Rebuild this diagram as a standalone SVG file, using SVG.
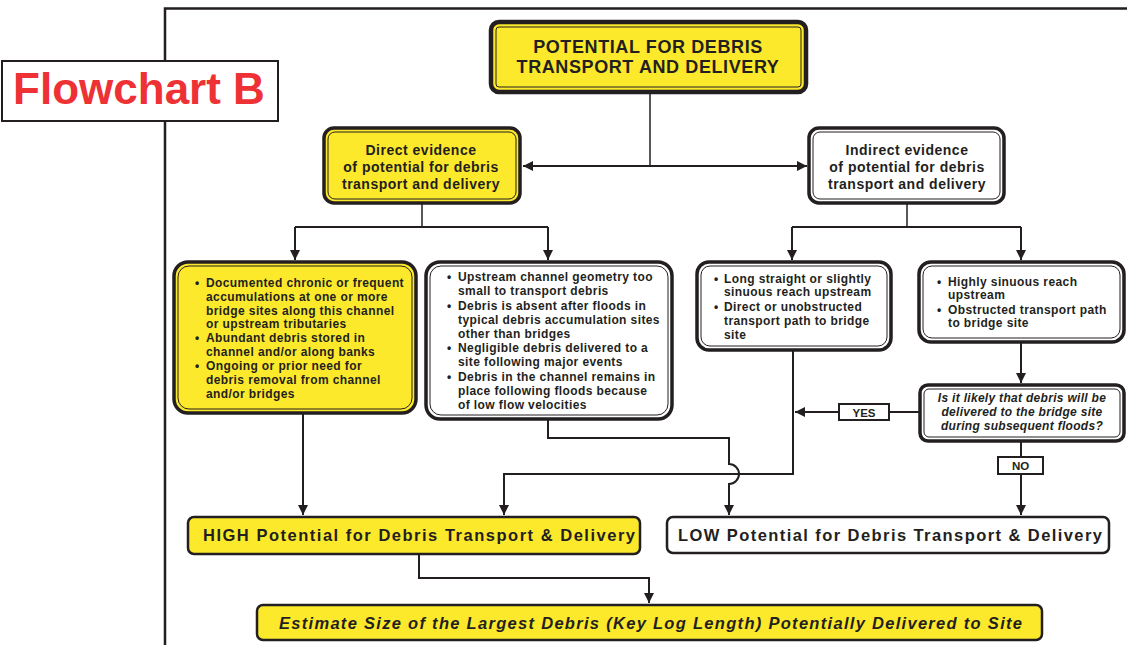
<svg xmlns="http://www.w3.org/2000/svg" width="1127" height="645" viewBox="0 0 1127 645">
  <defs>
    <marker id="arrow" viewBox="0 0 10 10" refX="10" refY="5" markerWidth="10" markerHeight="10" markerUnits="userSpaceOnUse" orient="auto-start-reverse">
      <path d="M0,0 L10,5 L0,10 z" fill="#231F20"/>
    </marker>
    <style>
      .frame { fill: none; stroke: #231F20; stroke-width: 2.5; }
      .outer { stroke: #231F20; stroke-width: 3.5; }
      .inner { fill: none; stroke: #231F20; stroke-width: 1; }
      .yellow { fill: #FDE92B; }
      .white { fill: #FFFFFF; }
      .plain { stroke: #231F20; stroke-width: 2.5; }
      .conn { fill: none; stroke: #231F20; stroke-width: 2; }
      .thin { fill: none; stroke: #231F20; stroke-width: 1.5; }
      text { font-family: "Liberation Sans", Arial, sans-serif; font-weight: bold; fill: #231F20; }
      .title { font-size: 18px; letter-spacing: 0.6px; text-anchor: middle; }
      .head { font-size: 14px; letter-spacing: 0.5px; text-anchor: middle; }
      .bul { font-size: 12px; letter-spacing: 0.4px; }
      .big { font-size: 16.5px; }
      .q { font-size: 12px; letter-spacing: 0.3px; font-style: italic; text-anchor: middle; }
      .lbl { font-size: 11.5px; text-anchor: middle; }
    </style>
  </defs>

  <!-- page frame -->
  <path class="frame" d="M165,645 V8.5 H1127"/>

  <!-- label box -->
  <g id="label">
    <rect x="2" y="61" width="276" height="60" fill="#FFFFFF" stroke="#231F20" stroke-width="2"/>
    <text x="139" y="104" font-size="44" style="fill:#EE3135" text-anchor="middle">Flowchart B</text>
  </g>

  <!-- connectors -->
  <g id="connectors">
    <path class="thin" d="M650,92 V166"/>
    <path class="conn" d="M523,166 H807" marker-start="url(#arrow)" marker-end="url(#arrow)"/>
    <path class="thin" d="M422,203 V227"/>
    <path class="conn" d="M295,227 H548"/>
    <path class="conn" d="M295,227 V260" marker-end="url(#arrow)"/>
    <path class="conn" d="M548,227 V260" marker-end="url(#arrow)"/>
    <path class="thin" d="M907,203 V227"/>
    <path class="conn" d="M792,227 H1021"/>
    <path class="conn" d="M792,227 V260" marker-end="url(#arrow)"/>
    <path class="conn" d="M1021,227 V260" marker-end="url(#arrow)"/>
    <path class="conn" d="M303,413 V515" marker-end="url(#arrow)"/>
    <path class="conn" d="M793,350 V474 H504 V515" marker-end="url(#arrow)"/>
    <path class="conn" d="M920,412 H889"/>
    <path class="conn" d="M839,412 H795" marker-end="url(#arrow)"/>
    <path class="conn" d="M1021,342 V383" marker-end="url(#arrow)"/>
    <path class="conn" d="M1021,441 V457"/>
    <path class="conn" d="M1021,474 V515" marker-end="url(#arrow)"/>
    <path class="conn" d="M548,420 V438 H729 V464 A10,10 0 0 1 729,484 V515" marker-end="url(#arrow)"/>
    <path class="conn" d="M419,554 V578 H649 V603" marker-end="url(#arrow)"/>
  </g>

  <!-- top node -->
  <g id="n-top">
    <rect class="yellow" x="491" y="22" width="315" height="70" rx="8" stroke="#231F20" stroke-width="4.5"/>
    <rect class="inner" x="496" y="27" width="305" height="60" rx="3" stroke-width="1.5"/>
    <text class="title" x="648" y="53">POTENTIAL FOR DEBRIS</text>
    <text class="title" x="648" y="73">TRANSPORT AND DELIVERY</text>
  </g>

  <g id="n-direct">
    <rect class="yellow outer" x="324" y="128" width="196" height="75" rx="10"/>
    <rect class="inner" x="328" y="132" width="188" height="67" rx="7"/>
    <text class="head" x="421" y="155">Direct evidence</text>
    <text class="head" x="421" y="172">of potential for debris</text>
    <text class="head" x="421" y="189">transport and delivery</text>
  </g>

  <g id="n-indirect">
    <rect class="white outer" x="809" y="128" width="195" height="75" rx="10"/>
    <rect class="inner" x="813" y="132" width="187" height="67" rx="7"/>
    <text class="head" x="907" y="155">Indirect evidence</text>
    <text class="head" x="907" y="172">of potential for debris</text>
    <text class="head" x="907" y="189">transport and delivery</text>
  </g>

  <g id="n-direct-list">
    <rect class="yellow outer" x="174" y="262" width="242" height="151" rx="14"/>
    <rect class="inner" x="178" y="266" width="234" height="143" rx="11"/>
    <text class="bul" x="195" y="287">•</text>
    <text class="bul" x="206" y="287">Documented chronic or frequent</text>
    <text class="bul" x="206" y="301">accumulations at one or more</text>
    <text class="bul" x="206" y="315">bridge sites along this channel</text>
    <text class="bul" x="206" y="328">or upstream tributaries</text>
    <text class="bul" x="195" y="342">•</text>
    <text class="bul" x="206" y="342">Abundant debris stored in</text>
    <text class="bul" x="206" y="356">channel and/or along banks</text>
    <text class="bul" x="195" y="370">•</text>
    <text class="bul" x="206" y="370">Ongoing or prior need for</text>
    <text class="bul" x="206" y="384">debris removal from channel</text>
    <text class="bul" x="206" y="398">and/or bridges</text>
  </g>

  <g id="n-direct-absent">
    <rect class="white outer" x="426" y="262" width="246" height="157" rx="14"/>
    <rect class="inner" x="430" y="266" width="238" height="149" rx="11"/>
    <text class="bul" x="447" y="281">•</text>
    <text class="bul" x="458" y="281">Upstream channel geometry too</text>
    <text class="bul" x="458" y="295">small to transport debris</text>
    <text class="bul" x="447" y="310">•</text>
    <text class="bul" x="458" y="310">Debris is absent after floods in</text>
    <text class="bul" x="458" y="324">typical debris accumulation sites</text>
    <text class="bul" x="458" y="338">other than bridges</text>
    <text class="bul" x="447" y="352">•</text>
    <text class="bul" x="458" y="352">Negligible debris delivered to a</text>
    <text class="bul" x="458" y="366">site following major events</text>
    <text class="bul" x="447" y="381">•</text>
    <text class="bul" x="458" y="381">Debris in the channel remains in</text>
    <text class="bul" x="458" y="395">place following floods because</text>
    <text class="bul" x="458" y="409">of low flow velocities</text>
  </g>

  <g id="n-straight">
    <rect class="white outer" x="697" y="262" width="194" height="88" rx="12"/>
    <rect class="inner" x="701" y="266" width="186" height="80" rx="9"/>
    <text class="bul" x="714" y="283">•</text>
    <text class="bul" x="724" y="283">Long straight or slightly</text>
    <text class="bul" x="724" y="296">sinuous reach upstream</text>
    <text class="bul" x="714" y="311">•</text>
    <text class="bul" x="724" y="311">Direct or unobstructed</text>
    <text class="bul" x="724" y="325">transport path to bridge</text>
    <text class="bul" x="724" y="339">site</text>
  </g>

  <g id="n-sinuous">
    <rect class="white outer" x="919" y="262" width="205" height="80" rx="12"/>
    <rect class="inner" x="923" y="266" width="197" height="72" rx="9"/>
    <text class="bul" x="937" y="286">•</text>
    <text class="bul" x="948" y="286">Highly sinuous reach</text>
    <text class="bul" x="948" y="299">upstream</text>
    <text class="bul" x="937" y="314">•</text>
    <text class="bul" x="948" y="314">Obstructed transport path</text>
    <text class="bul" x="948" y="327">to bridge site</text>
  </g>

  <g id="n-question">
    <rect class="white outer" x="920" y="385" width="204" height="56" rx="8"/>
    <rect class="inner" x="924" y="389" width="196" height="48" rx="5"/>
    <text class="q" x="1022" y="402">Is it likely that debris will be</text>
    <text class="q" x="1022" y="416">delivered to the bridge site</text>
    <text class="q" x="1022" y="430">during subsequent floods?</text>
  </g>

  <g id="l-yes">
    <rect x="839" y="404" width="50" height="16" fill="#FFFFFF" stroke="#231F20" stroke-width="2"/>
    <text class="lbl" x="864" y="416.5">YES</text>
  </g>

  <g id="l-no">
    <rect x="998" y="457" width="45" height="17" fill="#FFFFFF" stroke="#231F20" stroke-width="2"/>
    <text class="lbl" x="1020.5" y="470">NO</text>
  </g>

  <g id="n-high">
    <rect class="yellow plain" x="188" y="517" width="452" height="37" rx="6"/>
    <text class="big" x="203" y="541" textLength="432" lengthAdjust="spacing">HIGH Potential for Debris Transport &amp; Delivery</text>
  </g>

  <g id="n-low">
    <rect class="white plain" x="667" y="517" width="442" height="36" rx="6"/>
    <text class="big" x="678" y="541" textLength="424" lengthAdjust="spacing">LOW Potential for Debris Transport &amp; Delivery</text>
  </g>

  <g id="n-estimate">
    <rect class="yellow plain" x="257" y="605" width="785" height="35" rx="6" stroke-width="2"/>
    <text class="big" x="279" y="629" font-style="italic" textLength="743" lengthAdjust="spacing">Estimate Size of the Largest Debris (Key Log Length) Potentially Delivered to Site</text>
  </g>
</svg>
